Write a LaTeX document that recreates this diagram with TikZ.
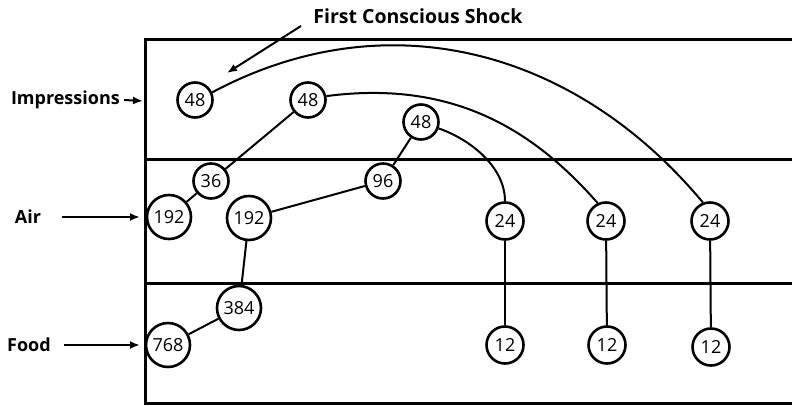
\documentclass[tikz,border=0pt]{standalone}
\usepackage{fontspec}
\setmainfont{Open Sans}
\usetikzlibrary{arrows.meta}
\begin{document}
\begin{tikzpicture}[x=1pt,y=-1pt,
  num/.style={circle,draw,line width=2.6pt,fill=white,inner sep=0pt,minimum size=35pt,font=\fontsize{18}{18}\selectfont},
  bignum/.style={num,minimum size=44pt},
  lab/.style={font=\bfseries\fontsize{18}{18}\selectfont,inner sep=0pt},
  band/.style={line width=3pt},
  link/.style={line width=2pt},
  feed/.style={line width=2pt,-{Latex[length=10pt,width=8pt]}}
]
\useasboundingbox (0,0) rectangle (792,406);
% frame and bands
\draw[band] (792,40) -- (145,40) -- (145,403) -- (792,403);
\draw[band] (145,160) -- (792,160);
\draw[band] (145,283) -- (792,283);
% labels
\node[lab,font=\bfseries\fontsize{19.5}{19.5}\selectfont] (title) at (418,16) {First Conscious Shock};
\node[lab,anchor=east] (imp) at (120,100) {Impressions};
\node[lab] (air) at (28,217) {Air};
\node[lab] (food) at (29,345) {Food};
\coordinate (impend) at (143,101);
\coordinate (airstart) at (62,217);
\coordinate (airend) at (140,217);
\coordinate (foodstart) at (64,345);
\coordinate (foodend) at (140,345);
\coordinate (shockstart) at (301,26);
\coordinate (shockend) at (227,73);
% nodes
\node[num] (i1) at (195,100) {48};
\node[num] (i2) at (308,100) {48};
\node[num] (i3) at (421,122) {48};
\node[num] (a36) at (211,181) {36};
\node[num] (a96) at (383,181) {96};
\node[bignum] (a1) at (169,217) {192};
\node[bignum] (a2) at (249,218) {192};
\node[num,minimum size=37pt] (h1) at (505,221) {24};
\node[num,minimum size=37pt] (h2) at (606,221) {24};
\node[num,minimum size=37pt] (h3) at (710,221) {24};
\node[bignum] (f384) at (239,308) {384};
\node[bignum] (f768) at (168,345) {768};
\node[num,minimum size=37pt] (l1) at (505,345) {12};
\node[num,minimum size=37pt] (l2) at (607,345) {12};
\node[num,minimum size=37pt] (l3) at (711,347) {12};
% input arrows
\draw[feed] (imp.east) ++(4pt,0) -- (impend);
\draw[feed] (airstart) -- (airend);
\draw[feed] (foodstart) -- (foodend);
\draw[feed] (shockstart) -- (shockend);
% connectors
\draw[link] (a36) -- (i2);
\draw[link] (a36) -- (a1);
\draw[link] (a96) -- (i3);
\draw[link] (a96) -- (a2);
\draw[link] (a2) -- (f384);
\draw[link] (f384) -- (f768);
\draw[link] (h1) -- (l1);
\draw[link] (h2) -- (l2);
\draw[link] (h3) -- (l3);
\draw[link] (i1.24) .. controls (387,-1) and (575,49) .. (h3.111);
\draw[link] (i2.12) .. controls (450,80) and (531,127) .. (h2.115);
\draw[link] (i3.-20) .. controls (467,138) and (505,165) .. (h1.90);
\end{tikzpicture}
\end{document}
